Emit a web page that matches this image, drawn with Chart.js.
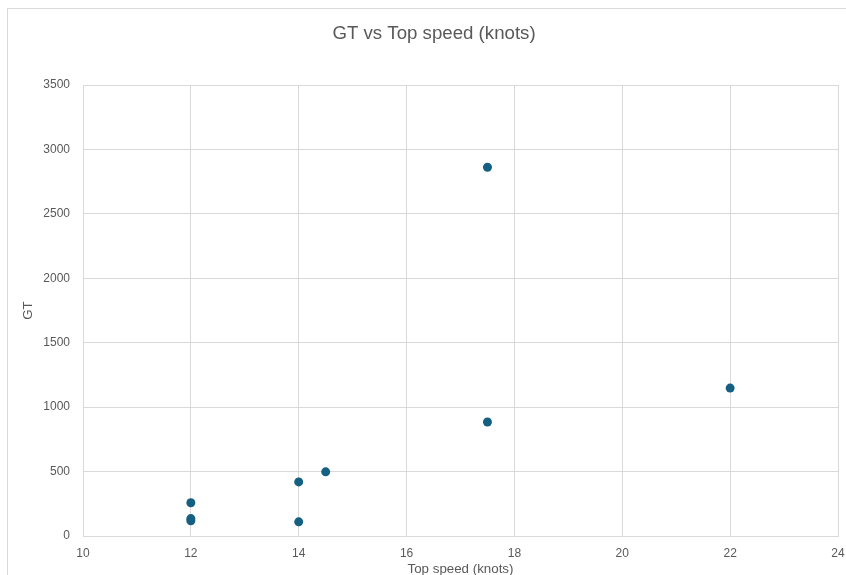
<!DOCTYPE html>
<html>
<head>
<meta charset="utf-8">
<script src="https://cdn.jsdelivr.net/npm/chart.js@4"></script>
<style>
  html, body { margin: 0; padding: 0; background: #fff; overflow: hidden; }
  #frame { position: absolute; left: 7px; top: 8px; width: 900px; height: 700px; border: 1px solid #d9d9d9; box-sizing: border-box; }
  #wrap { position: absolute; left: 0; top: 0; width: 846px; height: 575px; }
</style>
</head>
<body>
<div id="frame"></div>
<div id="wrap"><canvas id="c" width="846" height="575"></canvas></div>
<script>
const topSpeed = [12, 12, 12, 14, 14, 14.5, 17.5, 17.5, 22];
const gt = [258, 135, 118, 420, 110, 498, 2862, 885, 1148];
const xTicks = [10, 12, 14, 16, 18, 20, 22, 24];
const yTicks = [0, 500, 1000, 1500, 2000, 2500, 3000, 3500];

const points = topSpeed.map((x, i) => ({ x: x, y: gt[i] }));
const fontFam = "'Liberation Sans', Arial, sans-serif";
const txt = '#595959';
const grid = '#d9d9d9';

new Chart(document.getElementById('c'), {
  type: 'scatter',
  data: {
    datasets: [{
      label: 'GT',
      data: points,
      backgroundColor: '#156082',
      borderColor: '#156082',
      borderWidth: 0,
      pointRadius: 4.5,
      pointHoverRadius: 4.5
    }]
  },
  options: {
    responsive: false,
    animation: false,
    devicePixelRatio: 1,
    layout: { padding: { left: 22, right: 0, top: 8, bottom: 0 } },
    plugins: {
      legend: { display: false },
      tooltip: { enabled: false },
      title: {
        display: true,
        text: 'GT vs Top speed (knots)',
        color: txt,
        font: { family: fontFam, size: 18.67, weight: 'normal' },
        padding: { top: 15, bottom: 39.6 }
      }
    },
    scales: {
      x: {
        type: 'linear',
        min: xTicks[0],
        max: xTicks[xTicks.length - 1],
        afterBuildTicks: (s) => { s.ticks = xTicks.map(v => ({ value: v })); },
        afterFit: (s) => { s.height = 39; s.paddingRight = 8; },
        grid: { color: grid, lineWidth: 1, drawTicks: false },
        border: { color: grid, width: 1 },
        ticks: { color: txt, font: { family: fontFam, size: 12 }, padding: 10, maxRotation: 0, callback: (v) => String(v) },
        title: {
          display: true,
          text: 'Top speed (knots)',
          color: txt,
          font: { family: fontFam, size: 13.33 },
          padding: { top: 0, bottom: -2 }
        }
      },
      y: {
        type: 'linear',
        min: yTicks[0],
        max: yTicks[yTicks.length - 1],
        afterBuildTicks: (s) => { s.ticks = yTicks.map(v => ({ value: v })); },
        afterFit: (s) => { s.width = 61; },
        grid: { color: grid, lineWidth: 1, drawTicks: false },
        border: { color: grid, width: 1 },
        ticks: { color: txt, font: { family: fontFam, size: 12 }, padding: 13, callback: (v) => String(v) },
        title: {
          display: true,
          text: 'GT',
          color: txt,
          font: { family: fontFam, size: 13.33 },
          padding: { top: -2, bottom: 0 }
        }
      }
    }
  }
});
</script>
</body>
</html>
